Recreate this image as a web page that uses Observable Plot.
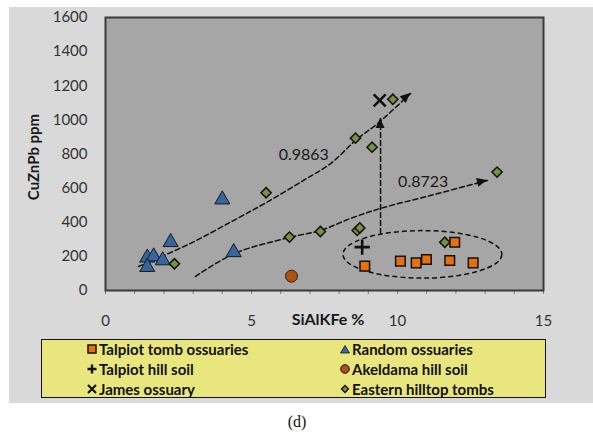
<!DOCTYPE html>
<html>
<head>
<meta charset="utf-8">
<script src="https://cdn.jsdelivr.net/npm/d3@7"></script>
<script src="https://cdn.jsdelivr.net/npm/@observablehq/plot@0.6"></script>
<style>
  html, body { margin: 0; padding: 0; background: #fff; }
  #wrap { position: relative; width: 593px; height: 438px; overflow: hidden; font-family: Lato, "Open Sans", sans-serif; }
  #bg { position: absolute; left: 9px; top: 7px; width: 584px; height: 396px; background: #d9d9d9; }
  #chart { position: absolute; left: 0; top: 0; }
  .title { position: absolute; font-weight: bold; color: #1a1a1a; white-space: nowrap; }
  #ytitle { left: 33px; top: 157px; font-size: 15px; transform: translate(-50%, -50%) rotate(-90deg); }
  #xtitle { left: 328px; top: 318px; font-size: 16px; transform: translate(-50%, -50%); }
  #legend { position: absolute; left: 41px; top: 339px; width: 503px; height: 57px; background: #e8e67c; border: 1.5px solid #111; }
  .item { position: absolute; font-weight: bold; font-size: 15px; color: #111; white-space: nowrap; display: flex; align-items: center; height: 20px; }
  .item svg { margin-right: 2px; }
  #caption { position: absolute; left: 297px; top: 422px; transform: translate(-50%, -50%); font-family: "Liberation Serif", "DejaVu Serif", serif; font-size: 16px; color: #111; }
</style>
</head>
<body>
<div id="wrap">
  <div id="bg"></div>
  <div id="chart"></div>
  <div id="ytitle" class="title">CuZnPb ppm</div>
  <div id="xtitle" class="title">SiAlKFe %</div>
  <div id="legend"></div>
  <div id="caption">(d)</div>
</div>
<script>
// ---- data ----
const talpiotTombX = [8.88, 10.10, 10.64, 10.99, 11.79, 11.96, 12.59];
const talpiotTombY = [143, 172, 162, 182, 176, 283, 162];

const randomX = [1.43, 1.65, 1.43, 1.96, 2.23, 4.39, 4.00];
const randomY = [192, 199, 137, 176, 283, 224, 533];

const talpiotSoilX = [8.79];
const talpiotSoilY = [254];

const akeldamaX = [6.37];
const akeldamaY = [84];

const jamesX = [9.39];
const jamesY = [1114];

const easternX = [2.36, 5.50, 6.30, 7.36, 8.56, 9.13, 9.84, 13.41, 8.62, 8.71, 11.62];
const easternY = [157, 573, 313, 346, 893, 840, 1121, 694, 352, 367, 283];

// hand-drawn trend arrows (annotation)
const trend1X = [1.13, 2.91, 4.38, 5.51, 6.78, 7.71, 8.56, 9.32, 10.45];
const trend1Y = [141, 276, 410, 516, 645, 744, 879, 979, 1155];
const trend2X = [3.08, 4.42, 6.30, 7.36, 8.39, 9.42, 11.13, 13.08];
const trend2Y = [82, 217, 311, 352, 422, 481, 557, 645];
const riseX = [9.42, 9.42];
const riseY = [334, 1008];

const trendLabels = ["0.9863", "0.8723"];
const trendLabelX = [6.79, 10.88];
const trendLabelY = [797, 639];

// group ellipse (center and radii in data units)
const ellipseCX = 10.87, ellipseCY = 209, ellipseRX = 2.72, ellipseRY = 139;

const xMinorTicks = d3.range(0, 16);
const xLabelTicks = [0, 5, 10, 15];
const yTicks = [0, 200, 400, 600, 800, 1000, 1200, 1400, 1600];

const legendNames = ["Talpiot tomb ossuaries", "Random ossuaries", "Talpiot hill soil", "Akeldama hill soil", "James ossuary", "Eastern hilltop tombs"];

// ---- build tables ----
const pts = (xs, ys) => xs.map((x, i) => ({x, y: ys[i]}));
const tomb = pts(talpiotTombX, talpiotTombY);
const rnd = pts(randomX, randomY);
const soil = pts(talpiotSoilX, talpiotSoilY);
const akel = pts(akeldamaX, akeldamaY);
const james = pts(jamesX, jamesY);
const east = pts(easternX, easternY);
const t1 = pts(trend1X, trend1Y);
const t2 = pts(trend2X, trend2Y);
const rise = pts(riseX, riseY);
const labels = trendLabels.map((t, i) => ({t, x: trendLabelX[i], y: trendLabelY[i]}));
const heads = [
  {x: trend1X[trend1X.length - 1], y: trend1Y[trend1Y.length - 1], a: 48},
  {x: riseX[1], y: riseY[1], a: 0},
  {x: trend2X[trend2X.length - 1], y: trend2Y[trend2Y.length - 1], a: 76}
];

const C = {orange: "#e8700c", blue: "#3566a0", green: "#77933c", brown: "#b0520e"};

function ellipseMark(index, scales, values, dimensions, context) {
  const cx = scales.x(ellipseCX), cy = scales.y(ellipseCY);
  const rx = Math.abs(scales.x(ellipseCX + ellipseRX) - cx);
  const ry = Math.abs(scales.y(ellipseCY + ellipseRY) - cy);
  const e = d3.create("svg:ellipse")
    .attr("cx", cx).attr("cy", cy).attr("rx", rx).attr("ry", ry)
    .attr("fill", "none").attr("stroke", "#111").attr("stroke-width", 1.5)
    .attr("stroke-dasharray", "5,3");
  return e.node();
}

function arrowHead(index, scales, values, dimensions, context) {
  const g = d3.create("svg:g");
  for (const h of heads) {
    const px = scales.x(h.x), py = scales.y(h.y);
    g.append("path")
      .attr("d", "M0,0L-4.5,10L4.5,10Z")
      .attr("transform", `translate(${px},${py}) rotate(${h.a})`)
      .attr("fill", "#111");
  }
  return g.node();
}

const dash = {stroke: "#111", strokeWidth: 1.5, strokeDasharray: "5,3"};

const chart = Plot.plot({
  width: 593, height: 338,
  marginLeft: 105, marginRight: 50, marginTop: 17, marginBottom: 48,
  style: {background: "transparent", fontFamily: "Lato, 'Open Sans', sans-serif", fontSize: "15px", color: "#333"},
  x: {domain: [0, 15]},
  y: {domain: [0, 1600]},
  marks: [
    Plot.frame({fill: "#a6a6a6"}),
    Plot.axisX({ticks: xMinorTicks, tickSize: 4, tickFormat: () => "", label: null, stroke: "#7a7a7a"}),
    Plot.axisX({ticks: xLabelTicks, tickSize: 0, tickPadding: 25, label: null, fontSize: 15, fill: "#333", tickFormat: d3.format("d")}),
    Plot.axisY({ticks: yTicks, tickSize: 0, tickPadding: 18, label: null, fontSize: 15, fill: "#333", tickFormat: d3.format("d")}),
    Plot.line(t1, {x: "x", y: "y", curve: "catmull-rom", ...dash}),
    Plot.line(t2, {x: "x", y: "y", curve: "catmull-rom", ...dash}),
    Plot.line(rise, {x: "x", y: "y", ...dash}),
    ellipseMark,
    arrowHead,
    Plot.text(labels, {x: "x", y: "y", text: "t", fontSize: 16, fill: "#1a1a1a"}),
    Plot.dot(rnd, {x: "x", y: "y", symbol: "triangle", r: 5.6, fill: C.blue, stroke: "#1a1a1a", strokeWidth: 1}),
    Plot.dot(east, {x: "x", y: "y", symbol: "diamond2", r: 4.6, fill: C.green, stroke: "#111", strokeWidth: 1.5}),
    Plot.dot(tomb, {x: "x", y: "y", symbol: "square", r: 5.4, fill: C.orange, stroke: "#111", strokeWidth: 1.5}),
    Plot.dot(akel, {x: "x", y: "y", symbol: "circle", r: 6, fill: C.brown, stroke: "#222", strokeWidth: 1}),
    Plot.dot(soil, {x: "x", y: "y", symbol: "plus", r: 5, stroke: "#111", strokeWidth: 2.6}),
    Plot.dot(james, {x: "x", y: "y", symbol: "times", r: 5.5, stroke: "#111", strokeWidth: 2.6}),
    Plot.frame({stroke: "#3a3a3a", strokeWidth: 2})
  ]
});
document.getElementById("chart").appendChild(chart);

// ---- legend ----
const legendSymbols = [
  `<rect x="1" y="1" width="8" height="8" fill="${C.orange}" stroke="#111" stroke-width="1.5"/>`,
  `<path d="M5,1.5L9.5,9L0.5,9Z" fill="${C.blue}" stroke="#1a1a1a" stroke-width="0.8"/>`,
  `<path d="M5,0.5V9.5M0.5,5H9.5" stroke="#111" stroke-width="2.4"/>`,
  `<circle cx="5" cy="5" r="4.3" fill="${C.brown}" stroke="#111" stroke-width="1"/>`,
  `<path d="M1,1L9,9M9,1L1,9" stroke="#111" stroke-width="2.2"/>`,
  `<path d="M5,1.5L8.5,5L5,8.5L1.5,5Z" fill="${C.green}" stroke="#111" stroke-width="1.3"/>`
];
const legend = document.getElementById("legend");
legendNames.forEach((name, i) => {
  const col = i % 2, row = Math.floor(i / 2);
  const div = document.createElement("div");
  div.className = "item";
  div.style.left = (col === 0 ? 45 : 298) + "px";
  div.style.top = (-1 + row * 20) + "px";
  div.innerHTML = `<svg width="10" height="10" viewBox="0 0 10 10">${legendSymbols[i]}</svg><span>${name}</span>`;
  legend.appendChild(div);
});
</script>
</body>
</html>
